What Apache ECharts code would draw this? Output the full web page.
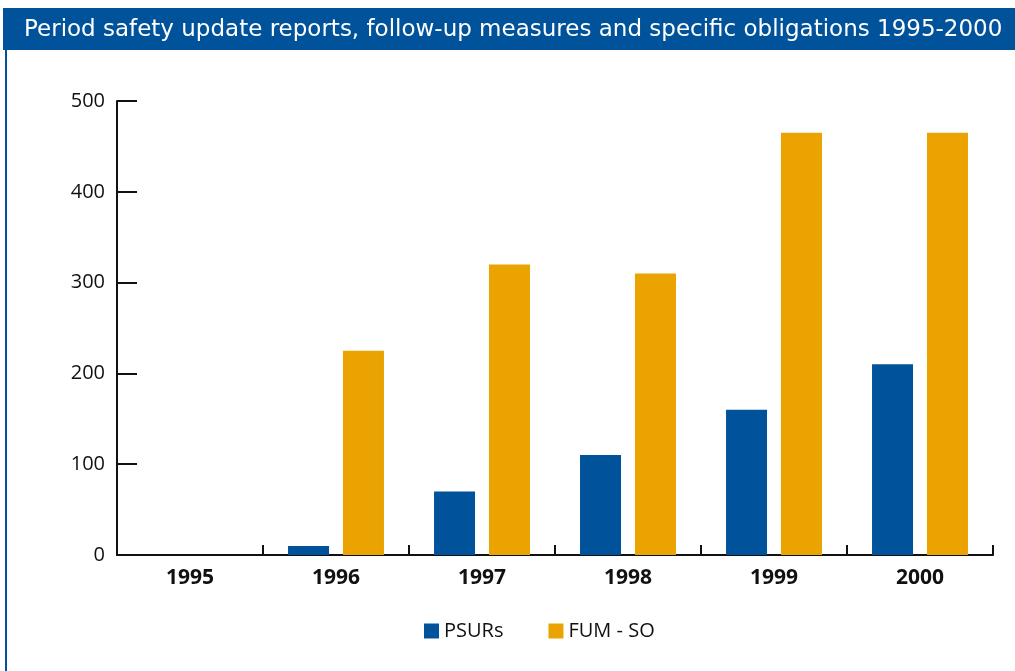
<!DOCTYPE html>
<html>
<head>
<meta charset="utf-8">
<script src="https://cdn.jsdelivr.net/npm/echarts@6/dist/echarts.min.js"></script>
<style>
  html, body { margin: 0; padding: 0; background: #fff; }
  #chart { width: 1015px; height: 671px; }
</style>
</head>
<body>
<div id="chart"></div>
<script>
// data
var years = ['1995', '1996', '1997', '1998', '1999', '2000'];
var psurs = [0, 10, 70, 110, 160, 210];
var fumSo = [0, 225, 320, 310, 465, 465];
var yTicks = [0, 100, 200, 300, 400, 500];

var blue = '#00539b';
var orange = '#eaa300';
var font = 'Open Sans';

var chart = echarts.init(document.getElementById('chart'));
var option = {
  animation: false,
  textStyle: { fontFamily: font },
  title: {
    text: 'Period safety update reports, follow-up measures and specific obligations 1995-2000',
    left: 19,
    top: 14,
    textStyle: { color: '#fff', fontSize: 23, fontWeight: 'normal', fontFamily: 'DejaVu Sans' }
  },
  graphic: [
    // title bar
    { type: 'rect', z: -1, shape: { x: 3, y: 8, width: 1012, height: 42 }, style: { fill: blue } },
    // left frame line
    { type: 'rect', z: -1, shape: { x: 5, y: 8, width: 2, height: 663 }, style: { fill: blue } }
  ],
  legend: {
    left: 419,
    top: 616,
    itemWidth: 15,
    itemHeight: 15,
    itemGap: 45,
    icon: 'rect',
    textStyle: { fontSize: 20, color: '#111', fontFamily: font },
    data: ['PSURs', 'FUM - SO']
  },
  grid: { left: 117, right: 22, top: 101, bottom: 116, containLabel: false },
  xAxis: {
    type: 'category',
    data: years,
    boundaryGap: true,
    axisLine: { lineStyle: { color: '#111', width: 2 } },
    axisTick: { show: true, inside: true, length: 10, lineStyle: { color: '#111', width: 2 } },
    axisLabel: { fontSize: 21, fontWeight: 'bold', color: '#111', margin: 13 }
  },
  yAxis: {
    type: 'value',
    min: 0,
    max: 500,
    interval: 100,
    splitLine: { show: false },
    axisLine: { show: true, lineStyle: { color: '#111', width: 2 } },
    axisTick: { show: true, inside: true, length: 20, lineStyle: { color: '#111', width: 2 } },
    axisLabel: {
      fontSize: 20, color: '#111', margin: 12,
      formatter: function (v) { return yTicks.indexOf(v) >= 0 ? String(v) : ''; }
    }
  },
  series: [
    {
      name: 'PSURs', type: 'bar', data: psurs,
      barWidth: 41, barGap: '34%',
      itemStyle: { color: blue }
    },
    {
      name: 'FUM - SO', type: 'bar', data: fumSo,
      barWidth: 41,
      itemStyle: { color: orange }
    }
  ]
};
chart.setOption(option);
</script>
</body>
</html>
